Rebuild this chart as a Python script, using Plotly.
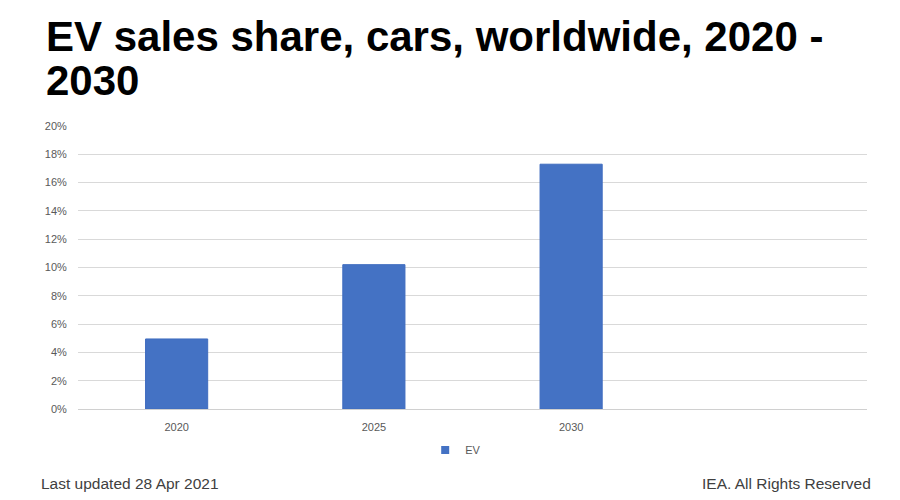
import plotly.graph_objects as go

categories = ["2020", "2025", "2030"]
ev_share = [0.0495, 0.102, 0.173]
y_ticks = [0, 0.02, 0.04, 0.06, 0.08, 0.10, 0.12, 0.14, 0.16, 0.18, 0.20]
y_tick_labels = ["0%", "2%", "4%", "6%", "8%", "10%", "12%", "14%", "16%", "18%", "20%"]
title_lines = ["EV sales share, cars, worldwide, 2020 -", "2030"]
footer_left = "Last updated 28 Apr 2021"
footer_right = "IEA. All Rights Reserved"
series_name = "EV"

BAR = "#4472C4"
FONT = "Liberation Sans, Arial, sans-serif"
positions = list(range(len(categories)))

W_FIG, H_FIG = 900, 500
L, R, T, B = 70, 41, 118, 99
PW, PH = W_FIG - L - R, H_FIG - T - B


def px(x):
    return (x - L) / PW


def py(y):
    return 1 - (y - T) / PH


fig = go.Figure()
fig.add_trace(go.Bar(
    x=positions, y=ev_share, width=0.315,
    marker=dict(color=BAR, line=dict(color="#3F6CBF", width=1)),
    name=series_name, showlegend=False,
    hovertemplate="%{customdata}: %{y:.1%}<extra></extra>",
    customdata=categories,
))
fig.add_trace(go.Scatter(
    x=[None], y=[None], mode="markers", name=series_name,
    marker=dict(symbol="square", size=8, color=BAR),
))

fig.update_layout(
    width=W_FIG, height=H_FIG,
    paper_bgcolor="white", plot_bgcolor="white",
    margin=dict(l=L, r=R, t=T, b=B, autoexpand=False),
    font=dict(family=FONT, color="#595959"),
    showlegend=True,
    legend=dict(
        orientation="h", xref="paper", yref="paper",
        x=px(447.7), xanchor="center", y=py(442), yanchor="middle",
        font=dict(size=11, color="#595959"), itemwidth=30,
        bgcolor="rgba(0,0,0,0)",
    ),
    xaxis=dict(
        range=[-0.5, 3.5], tickvals=positions, ticktext=categories,
        showgrid=False, zeroline=False, showline=False, automargin=False,
        ticks="outside", ticklen=8, tickcolor="rgba(0,0,0,0)",
        tickfont=dict(size=11, color="#595959"), fixedrange=True,
    ),
    yaxis=dict(
        range=[0, 0.2], tickvals=y_ticks, ticktext=y_tick_labels,
        showgrid=True, gridcolor="#D9D9D9", gridwidth=1, automargin=False,
        zeroline=True, zerolinecolor="#D0D0D0", zerolinewidth=1,
        showline=False, ticks="outside", ticklen=8, tickcolor="rgba(0,0,0,0)",
        tickfont=dict(size=11, color="#595959"), fixedrange=True,
    ),
)

# Title (two lines)
for line, top in zip(title_lines, [2.5, 46.5]):
    fig.add_annotation(
        text=f"<b>{line}</b>", xref="paper", yref="paper",
        x=px(36), y=py(top), xanchor="left", yanchor="top", showarrow=False,
        font=dict(family=FONT, size=42, color="#000000"),
    )

# Footer
fig.add_annotation(
    text=footer_left, xref="paper", yref="paper",
    x=px(31), y=py(475), xanchor="left", yanchor="middle", showarrow=False,
    font=dict(family=FONT, size=15.5, color="#404040"),
)
fig.add_annotation(
    text=footer_right, xref="paper", yref="paper",
    x=px(865), y=py(475), xanchor="right", yanchor="middle", showarrow=False,
    font=dict(family=FONT, size=15.5, color="#404040"),
)

fig.write_html("out.html")
